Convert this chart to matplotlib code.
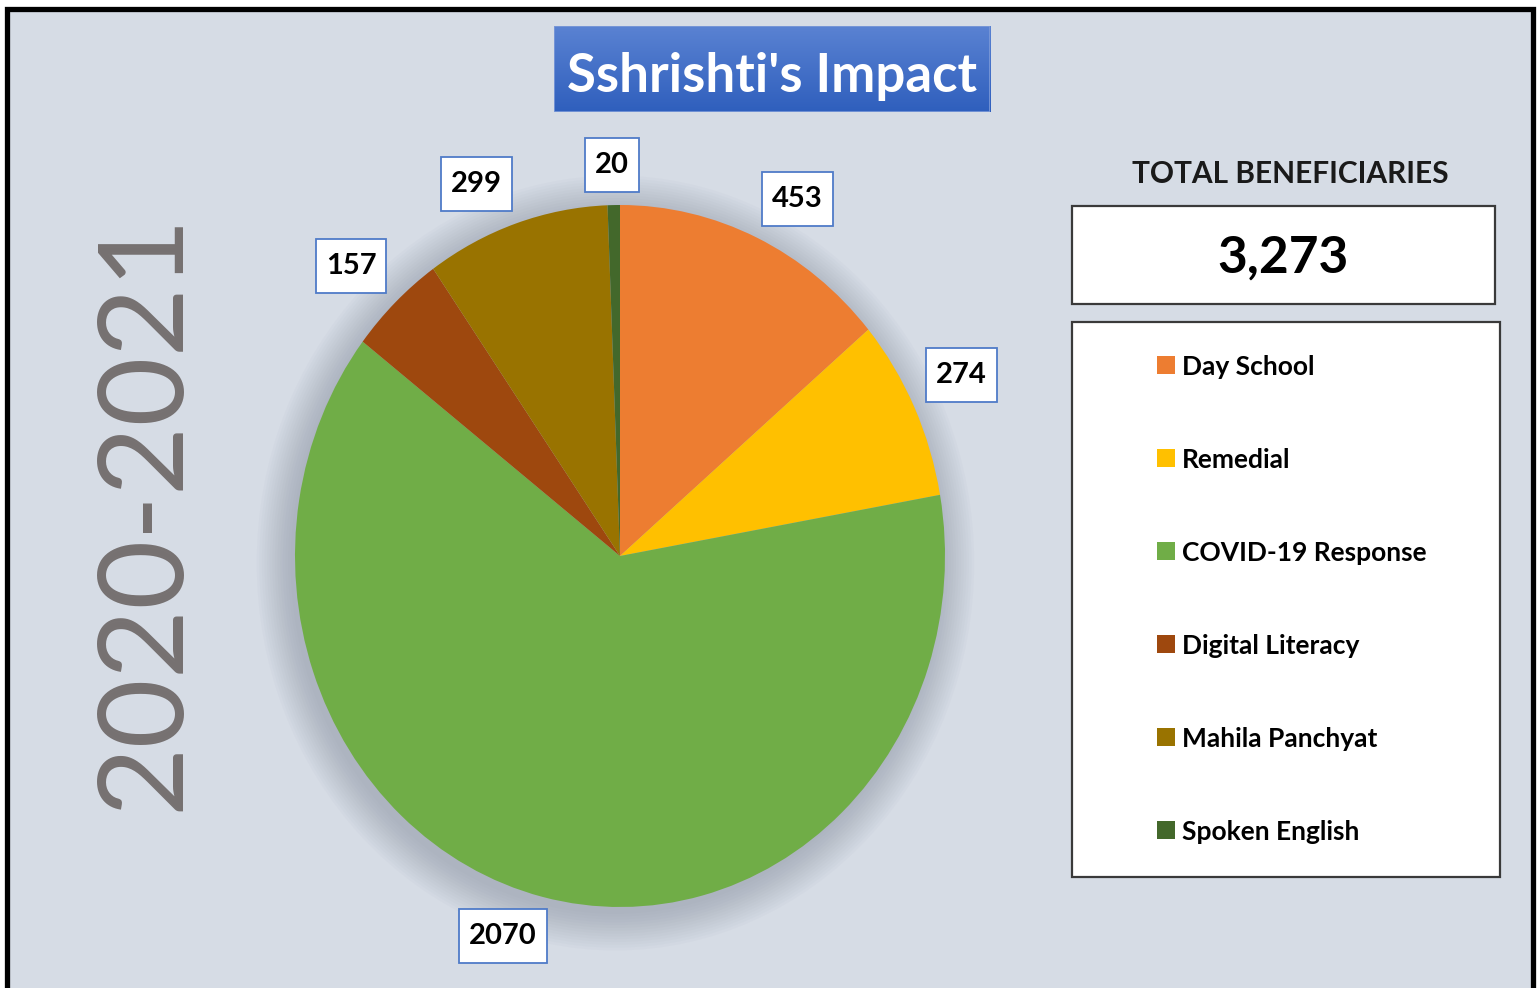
import numpy as np
import matplotlib.pyplot as plt
from matplotlib.patches import Rectangle, Ellipse
from matplotlib.path import Path
from matplotlib.colors import LinearSegmentedColormap

W, H = 1540, 988

categories = ["Day School", "Remedial", "COVID-19 Response", "Digital Literacy",
              "Mahila Panchyat", "Spoken English"]
values = [453, 274, 2070, 157, 299, 20]
colors = ["#ed7d31", "#ffc000", "#70ad47", "#9e480e", "#997300", "#43682b"]
title = "Sshrishti's Impact"
year = "2020-2021"
total = sum(values)

plt.rcParams['font.family'] = ['Lato', 'DejaVu Sans']


def fx(x):
    return x / W


def fy(y):
    return 1 - y / H


def px_axes(x0, y0, x1, y1):
    return fig.add_axes([fx(x0), fy(y1), fx(x1) - fx(x0), fy(y0) - fy(y1)])


def px_box(x0, y0, x1, y1, **kw):
    r = Rectangle((fx(x0), fy(y1)), fx(x1) - fx(x0), fy(y0) - fy(y1),
                  transform=fig.transFigure, **kw)
    fig.add_artist(r)
    return r


def label_box(x0, y0, width, height, mutation_size):
    # data label box: fixed height, small side padding
    padx = 0.34 * mutation_size
    hh = 0.92 * mutation_size
    cy = y0 + height / 2
    a, b = x0 - padx, x0 + width + padx
    return Path([(a, cy - hh), (b, cy - hh), (b, cy + hh), (a, cy + hh), (a, cy - hh)],
                closed=True)


fig = plt.figure(figsize=(W / 100, H / 100), dpi=100, facecolor='white')

# background panel with black frame
px_box(7, 9, 1533, 1010, facecolor='#d6dce5', edgecolor='black', linewidth=3.8,
       zorder=-2)

# pie
ax = px_axes(295, 205, 945, 907)
for k in range(14):
    r = 1 + 0.008 * k
    ax.add_patch(Ellipse((-0.014, -0.02), 2 * r, 2 * r, facecolor='#7c8494',
                         alpha=0.035, linewidth=0, zorder=0, clip_on=False))

wedges, _, autotexts = ax.pie(
    values, colors=colors, startangle=90, counterclock=False,
    autopct=lambda p: f'{p * total / 100:.0f}', pctdistance=1.15,
    wedgeprops=dict(linewidth=0),
    textprops=dict(fontsize=21, fontweight='bold', color='black'))
ax.set_aspect('auto')
ax.set_xlim(-1, 1)
ax.set_ylim(-1, 1)
ax.axis('off')
for t in autotexts:
    t.set_bbox(dict(boxstyle=label_box, facecolor='white',
                    edgecolor='#4f7bc8', linewidth=1.3))

# place each label box just outside the wedge edge (outside-end style)
fig.canvas.draw()
renderer = fig.canvas.get_renderer()
rx = ax.bbox.width / 2
ry = ax.bbox.height / 2
gap = 13
for w, t in zip(wedges, autotexts):
    phi = np.deg2rad((w.theta1 + w.theta2) / 2)
    ux, uy = np.cos(phi), np.sin(phi)
    ext = t.get_bbox_patch().get_window_extent(renderer)
    hw, hh = ext.width / 2, ext.height / 2
    sx = np.clip(3.5 * ux, -1, 1)
    sy = np.clip(3.5 * uy, -1, 1)
    x = ux + (gap * ux + hw * sx) / rx
    y = uy + (gap * uy + hh * sy) / ry
    t.set_position((x, y))

# title box
tax = px_axes(554, 26, 990, 112)
grad = LinearSegmentedColormap.from_list('g', ['#2f5fbd', '#5a82d2'])
tax.imshow(np.linspace(0, 1, 100).reshape(-1, 1)[::-1], cmap=grad,
           aspect='auto', extent=(0, 1, 0, 1))
tax.add_patch(Rectangle((0, 0), 1, 1, transform=tax.transAxes, fill=False,
                        edgecolor='#7d9ad8', linewidth=1.2))
tax.axis('off')
tax.text(0.5, (112 - 92) / 86, title, transform=tax.transAxes, ha='center',
         va='baseline', color='white', fontsize=38, fontweight='bold')

# year label
fig.text(fx(145), fy(511), year, rotation=90, ha='center', va='center',
         fontsize=86, color='#767171', zorder=-1)

# total beneficiaries
fig.text(fx(1290), fy(183), "TOTAL BENEFICIARIES", ha='center', va='baseline',
         fontsize=21.5, fontweight='bold', color='#1a1a1a')
px_box(1072, 206, 1495, 304, facecolor='white', edgecolor='#3a3a3a',
       linewidth=1.6, zorder=-1)
fig.text(fx(1283), fy(273), f'{total:,}', ha='center', va='baseline',
         fontsize=37, fontweight='bold', color='black')

# legend
px_box(1072, 322, 1500, 877, facecolor='white', edgecolor='#3a3a3a',
       linewidth=1.6, zorder=-1)
lax = px_axes(1072, 322, 1500, 877)
lax.set_xlim(0, 428)
lax.set_ylim(555, 0)
lax.axis('off')
for i, (lab, col) in enumerate(zip(categories, colors)):
    y = 43 + i * 93
    lax.scatter([93.5], [y], marker='s', s=150, color=col, linewidths=0)
    lax.text(110, y, lab, ha='left', va='center_baseline', fontsize=19,
             fontweight='bold', color='black')

fig.savefig('out.png', dpi=100, facecolor='white')
